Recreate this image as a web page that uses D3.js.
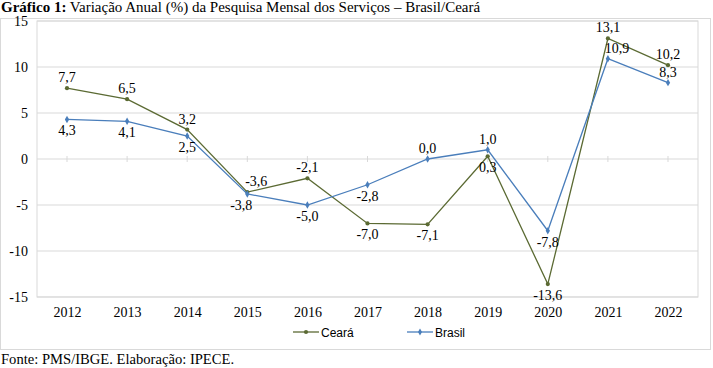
<!DOCTYPE html>
<html><head><meta charset="utf-8">
<script src="https://cdn.jsdelivr.net/npm/d3@7"></script>
<style>body{margin:0;background:#fff;}svg text{font-family:"Liberation Serif";}</style>
</head><body><svg id="c" width="713" height="368"></svg>
<script>
const years = ["2012","2013","2014","2015","2016","2017","2018","2019","2020","2021","2022"];
const ceara = [7.7, 6.5, 3.2, -3.6, -2.1, -7.0, -7.1, 0.3, -13.6, 13.1, 10.2];
const brasil = [4.3, 4.1, 2.5, -3.8, -5.0, -2.8, 0.0, 1.0, -7.8, 10.9, 8.3];
const yTicks = [-15, -10, -5, 0, 5, 10, 15];
const cearaLabelPos = ["a","a","a","ar","a","b","b","b","b","a","a"];
const brasilLabelPos = ["b","b","b","bl","b","b","a","a","b","ar","a"];

const svg = d3.select("#c");
const m = {l: 37, r: 698, t: 21, b: 297};
const cCol = "#5b6a33", bCol = "#4a7ebb";
const serif = '"Liberation Serif"';

svg.append("rect").attr("x",0.5).attr("y",18.5).attr("width",710).attr("height",331).attr("fill","none").attr("stroke","#d9d9d9");

const title = svg.append("text").attr("x",1).attr("y",12).attr("font-size",15).style("font-family", serif);
title.append("tspan").attr("font-weight","bold").text("Gráfico 1:");
title.append("tspan").text(" Variação Anual (%) da Pesquisa Mensal dos Serviços – Brasil/Ceará");

const x = d3.scalePoint().domain(years).range([m.l + 30, m.r - 30]);
const y = d3.scaleLinear().domain([-15, 15]).range([m.b, m.t]);

svg.append("g").selectAll("line").data(yTicks).join("line")
  .attr("x1", m.l).attr("x2", m.r).attr("y1", d => y(d)).attr("y2", d => y(d))
  .attr("stroke", "#d9d9d9").attr("stroke-width", 1);
svg.append("rect").attr("x", m.l).attr("y", m.t).attr("width", m.r - m.l).attr("height", m.b - m.t)
  .attr("fill","none").attr("stroke","#d9d9d9");

svg.append("g").selectAll("line").data(years).join("line")
  .attr("x1", d => x(d)).attr("x2", d => x(d)).attr("y1", y(0) - 3).attr("y2", y(0) + 3)
  .attr("stroke", "#d9d9d9");

const yAxis = d3.axisLeft(y).tickValues(yTicks).tickSize(0).tickPadding(9).tickFormat(d => String(d));
const gy = svg.append("g").attr("transform", `translate(${m.l},0)`).call(yAxis);
gy.attr("font-family", null);
gy.select(".domain").remove();
gy.selectAll("text").style("font-family", serif).attr("font-size",14).attr("fill","#000");

const xAxis = d3.axisBottom(x).tickSize(0).tickPadding(10);
const gx = svg.append("g").attr("transform", `translate(0,${m.b})`).call(xAxis);
gx.attr("font-family", null);
gx.select(".domain").remove();
gx.selectAll("text").style("font-family", serif).attr("font-size",14).attr("fill","#000");

const line = d3.line().x((d,i) => x(years[i])).y(d => y(d));

function series(vals, col, shape, pos) {
  svg.append("path").datum(vals).attr("d", line).attr("fill","none").attr("stroke", col).attr("stroke-width", 1.3);
  const sym = d3.symbol().type(shape).size(shape === d3.symbolDiamond ? 16 : 14);
  svg.append("g").selectAll("path").data(vals).join("path")
    .attr("transform", (d,i) => `translate(${x(years[i])},${y(d)})`)
    .attr("d", sym).attr("fill", col);
  svg.append("g").selectAll("text").data(vals).join("text")
    .attr("x", (d,i) => x(years[i]) + (pos[i] === "ar" ? 9 : pos[i] === "bl" ? -6 : 0))
    .attr("y", (d,i) => y(d) + (pos[i][0] === "a" ? -6 : 16))
    .attr("text-anchor","middle").attr("font-size",14).attr("fill","#000").style("font-family", serif)
    .text(d => d.toFixed(1).replace(".", ","));
}
series(ceara, cCol, d3.symbolCircle, cearaLabelPos);
series(brasil, bCol, d3.symbolDiamond, brasilLabelPos);

const legend = [{name:"Ceará", col:cCol, x:293, shape:d3.symbolCircle},{name:"Brasil", col:bCol, x:407, shape:d3.symbolDiamond}];
const lg = svg.append("g").selectAll("g").data(legend).join("g").attr("transform", d => `translate(${d.x},332)`);
lg.append("line").attr("x1",0).attr("x2",26).attr("stroke", d => d.col).attr("stroke-width",1.3);
lg.append("path").attr("transform","translate(13,0)").attr("d", d => d3.symbol().type(d.shape).size(14)()).attr("fill", d => d.col);
lg.append("text").attr("x",28).attr("y",4.5).attr("font-size",12).style("font-family",'"Liberation Sans"').attr("fill","#000").text(d => d.name);

svg.append("text").attr("x",1).attr("y",364).attr("font-size",14.6).style("font-family", serif).text("Fonte: PMS/IBGE. Elaboração: IPECE.");
</script></body></html>
